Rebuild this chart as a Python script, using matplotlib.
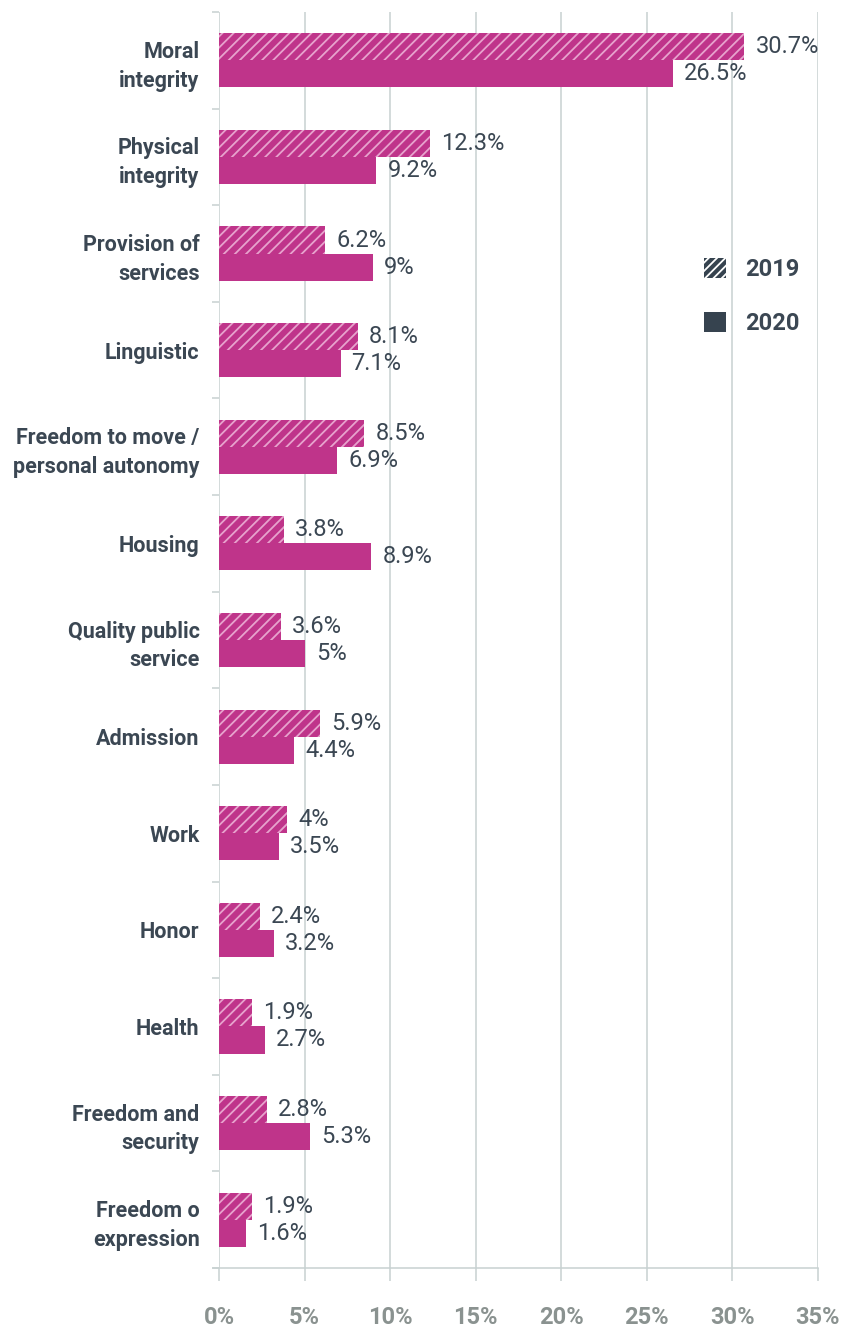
import numpy as np
import matplotlib
matplotlib.use('Agg')
from matplotlib import pyplot as plt
from matplotlib.patches import Patch

plt.rcParams['font.family'] = ['Roboto', 'DejaVu Sans']
plt.rcParams['hatch.linewidth'] = 1.3

categories = ['Moral\nintegrity', 'Physical\nintegrity', 'Provision of\nservices', 'Linguistic',
              'Freedom to move /\npersonal autonomy', 'Housing', 'Quality public\nservice',
              'Admission', 'Work', 'Honor', 'Health', 'Freedom and\nsecurity', 'Freedom o\nexpression']
values_2019 = [30.7, 12.3, 6.2, 8.1, 8.5, 3.8, 3.6, 5.9, 4, 2.4, 1.9, 2.8, 1.9]
values_2020 = [26.5, 9.2, 9, 7.1, 6.9, 8.9, 5, 4.4, 3.5, 3.2, 2.7, 5.3, 1.6]
xticks = [0, 5, 10, 15, 20, 25, 30, 35]

bar_color = '#bf348a'
hatch_color = '#e7a3cd'
grid_color = '#c8d1d1'
text_dark = '#3b4753'
tick_gray = '#8a9290'

fig = plt.figure(figsize=(8.49, 13.29), dpi=100)
ax = fig.add_axes([219/849, 1-1268/1329, (818-219)/849, (1268-12)/1329])

y = np.arange(len(categories))
h = 0.28
ax.barh(y - h/2, values_2019, height=h, color=bar_color, edgecolor=hatch_color,
        linewidth=0, hatch='///', zorder=3)
ax.barh(y + h/2, values_2020, height=h, color=bar_color, linewidth=0, zorder=3)

for i in range(len(categories)):
    ax.annotate('%g%%' % values_2019[i], (values_2019[i], y[i] - h/2), xytext=(8, 0),
                textcoords='offset points', va='center', ha='left', fontsize=17, color=text_dark)
    ax.annotate('%g%%' % values_2020[i], (values_2020[i], y[i] + h/2), xytext=(8, 0),
                textcoords='offset points', va='center', ha='left', fontsize=17, color=text_dark)

ax.set_xlim(0, 35)
ax.set_ylim(len(categories) - 0.5, -0.5)

ax.set_xticks(xticks)
ax.set_xticklabels(['%d%%' % t for t in xticks], fontsize=17, fontweight='bold', color=tick_gray)
ax.tick_params(axis='x', length=9, width=1.1, color=grid_color, pad=18)
ax.grid(axis='x', color=grid_color, linewidth=1.1, zorder=0)

ax.set_yticks(np.arange(-0.5, len(categories)), labels=[])
ax.tick_params(axis='y', which='major', length=5, width=1.1, color=grid_color)
ax.set_yticks(y, minor=True)
ax.set_yticklabels(categories, minor=True, fontsize=15.5, fontweight='bold', color=text_dark,
                   multialignment='right', linespacing=1.4)
ax.tick_params(axis='y', which='minor', length=0, pad=14)

for s in ['top', 'right']:
    ax.spines[s].set_visible(False)
ax.spines['left'].set_visible(False)
ax.spines['bottom'].set_color(grid_color)
ax.spines['bottom'].set_linewidth(1.1)
ax.spines['bottom'].set_bounds(-0.35, 35)

handles = [Patch(facecolor='#36434f', edgecolor='white', linewidth=0, hatch='////', label='2019'),
           Patch(facecolor='#36434f', linewidth=0, label='2020')]
fig.legend(handles=handles, loc='upper left', bbox_to_anchor=(704/849, 1-258/1329),
           frameon=False, prop={'size': 17, 'weight': 'bold'}, labelcolor=text_dark,
           handlelength=0.93, handleheight=0.93, handletextpad=0.8, labelspacing=1.3,
           borderpad=0, borderaxespad=0)

fig.savefig('out.png', dpi=100)
